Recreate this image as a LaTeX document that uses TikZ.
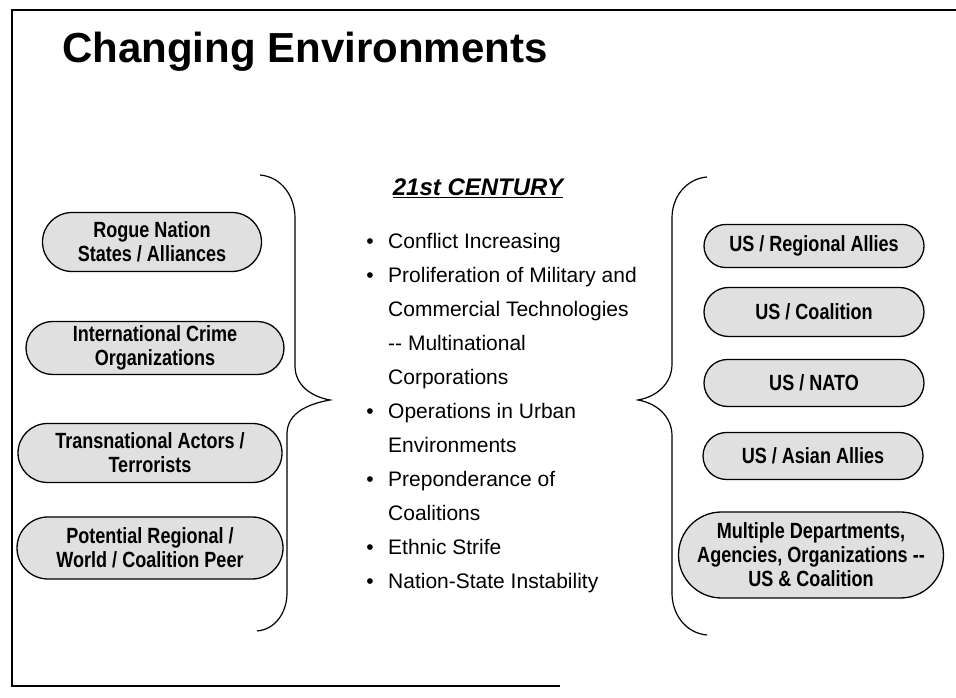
\documentclass[tikz,border=0pt]{standalone}
\usepackage{fontspec}
\setmainfont{Liberation Sans}
\newfontfamily\ovalfont{Liberation Sans}[FakeStretch=0.82]
\usetikzlibrary{shapes.misc}

\begin{document}
\begin{tikzpicture}[x=1pt,y=1pt]
	\tikzstyle{every node}=[font=\fontsize{21}{34}\selectfont]
	\tikzstyle{actor}=[rounded rectangle, draw=black, line width=1.3pt, fill=black!12, inner sep=1pt, align=center, font=\ovalfont\bfseries\fontsize{22}{24}\selectfont]
	\tikzstyle{item}=[anchor=base west, inner sep=0pt, align=left]
	\tikzstyle{dot}=[anchor=base, inner sep=0pt]
	\tikzstyle{brace}=[line width=1.2pt]
	
	\useasboundingbox (0,0) rectangle (956,698);
	\draw [line width=1.4pt] (956,688) -- (12,688) -- (12,12) -- (560,12);
	
	\node [anchor=base west, inner sep=0pt, font=\bfseries\fontsize{42}{48}\selectfont] (title) at (62,635) {Changing Environments};
	
	% threats
	\node [actor, minimum width=221pt, minimum height=59pt] (rogue) at (152,456) {Rogue Nation\\States / Alliances};
	\node [actor, minimum width=260pt, minimum height=53pt] (crime) at (155,350) {International Crime\\Organizations};
	\node [actor, minimum width=266pt, minimum height=59pt] (terror) at (150,245) {Transnational Actors /\\Terrorists};
	\node [actor, minimum width=268pt, minimum height=62pt] (peer) at (150,150) {Potential Regional /\\World / Coalition Peer};
	
	\draw [brace] (260,523) to[out=-5,in=90] (295,480) -- (295,332) to[out=-90,in=170] (330,298) to[out=190,in=90] (287,264) -- (287,105) to[out=-90,in=5] (257,67);
	
	% century
	\node [anchor=base, inner sep=0pt, font=\bfseries\itshape\fontsize{24}{28}\selectfont] (century) at (478,502) {\underline{21st CENTURY}};
	
	\node [dot] (d1) at (370,449) {\textbullet};
	\node [item] (conflict) at (388,449) {Conflict Increasing};
	\node [dot] (d2) at (370,415) {\textbullet};
	\node [item] (prolif) at (388,313) {Proliferation of Military and\\Commercial Technologies\\-{}- Multinational\\Corporations};
	\node [dot] (d3) at (370,279) {\textbullet};
	\node [item] (urban) at (388,245) {Operations in Urban\\Environments};
	\node [dot] (d4) at (370,211) {\textbullet};
	\node [item] (coal) at (388,177) {Preponderance of\\Coalitions};
	\node [dot] (d5) at (370,143) {\textbullet};
	\node [item] (ethnic) at (388,143) {Ethnic Strife};
	\node [dot] (d6) at (370,109) {\textbullet};
	\node [item] (instab) at (388,109) {Nation-State Instability};
	
	\draw [brace] (707,521) to[out=185,in=90] (672,480) -- (672,334) to[out=-90,in=10] (638,298) to[out=-10,in=90] (672,262) -- (672,105) to[out=-90,in=175] (707,63);
	
	% partners
	\node [actor, minimum width=222pt, minimum height=43pt] (regional) at (814,452) {US / Regional Allies};
	\node [actor, minimum width=222pt, minimum height=49pt] (coalition) at (814,386) {US / Coalition};
	\node [actor, minimum width=222pt, minimum height=47pt] (nato) at (814,315) {US / NATO};
	\node [actor, minimum width=222pt, minimum height=47pt] (asian) at (813,242) {US / Asian Allies};
	\node [actor, minimum width=267pt, minimum height=86pt] (multi) at (811,143) {Multiple Departments,\\Agencies, Organizations -{}-\\US \& Coalition};
	
\end{tikzpicture}
\end{document}
